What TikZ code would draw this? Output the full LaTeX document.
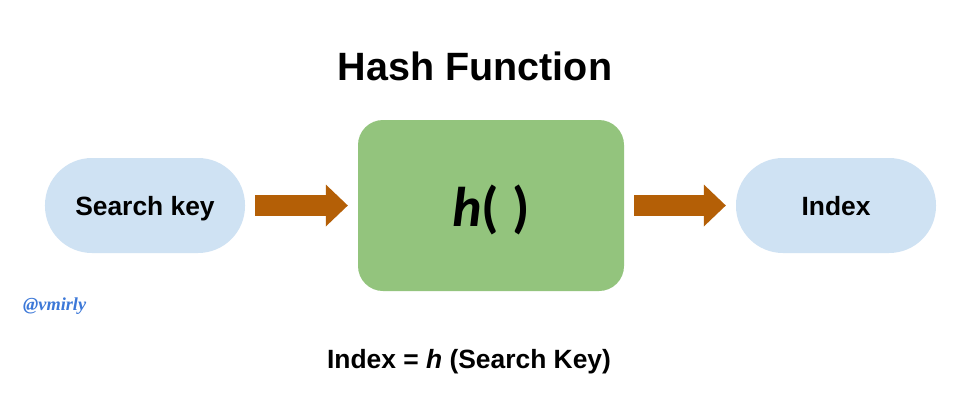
\documentclass[tikz,border=0pt]{standalone}
\usepackage{fontspec}
\setmainfont{Liberation Sans}
\newfontfamily\hfont{Carlito}
\newfontfamily\sigfont{Liberation Serif}
\usetikzlibrary{arrows.meta}
\definecolor{pillblue}{HTML}{CFE2F3}
\definecolor{boxgreen}{HTML}{93C47D}
\definecolor{arroworange}{HTML}{B45F06}
\definecolor{sigblue}{HTML}{3C78D8}
\begin{document}
\begin{tikzpicture}[x=1bp,y=-1bp,
  pill/.style={fill=pillblue, rounded corners=47bp, minimum width=200bp, minimum height=95bp, inner sep=0pt},
  hbox/.style={fill=boxgreen, rounded corners=25bp, minimum width=266bp, minimum height=171bp, inner sep=0pt},
  flow/.style={draw=arroworange, line width=21bp,
    -{Triangle[length=22bp,width=42bp,line width=0pt,fill=arroworange]},
    shorten <=10bp, shorten >=10bp},
  lbl/.style={font=\fontsize{26.4bp}{30bp}\selectfont\bfseries, anchor=base, inner sep=0pt}]
\useasboundingbox[fill=white] (0,0) rectangle (979,402);

\node[font=\fontsize{39.5bp}{46bp}\selectfont\bfseries, anchor=base, inner sep=0pt] (title) at (475,80) {Hash Function};

\node[pill] (sk) at (145,205.5) {};
\node[lbl] (sktext) at (145,215) {Search key};

\node[hbox] (hf) at (491,205.5) {};
\node[font=\hfont\fontsize{56bp}{64bp}\selectfont\bfseries, anchor=base, inner sep=0pt] (hftext) at (491,226) {\textit{h}( )};

\node[pill] (ix) at (836,205.5) {};
\node[lbl] (ixtext) at (836,215.5) {Index};

\draw[flow] (sk.east) -- (hf.west);
\draw[flow] (hf.east) -- (ix.west);

\node[font=\sigfont\fontsize{18.3bp}{21bp}\selectfont\bfseries\itshape, text=sigblue, anchor=base west, inner sep=0pt] (sig) at (23,310) {@vmirly};

\node[lbl] (eq) at (469,368) {Index = \textit{h} (Search Key)};
\end{tikzpicture}
\end{document}
